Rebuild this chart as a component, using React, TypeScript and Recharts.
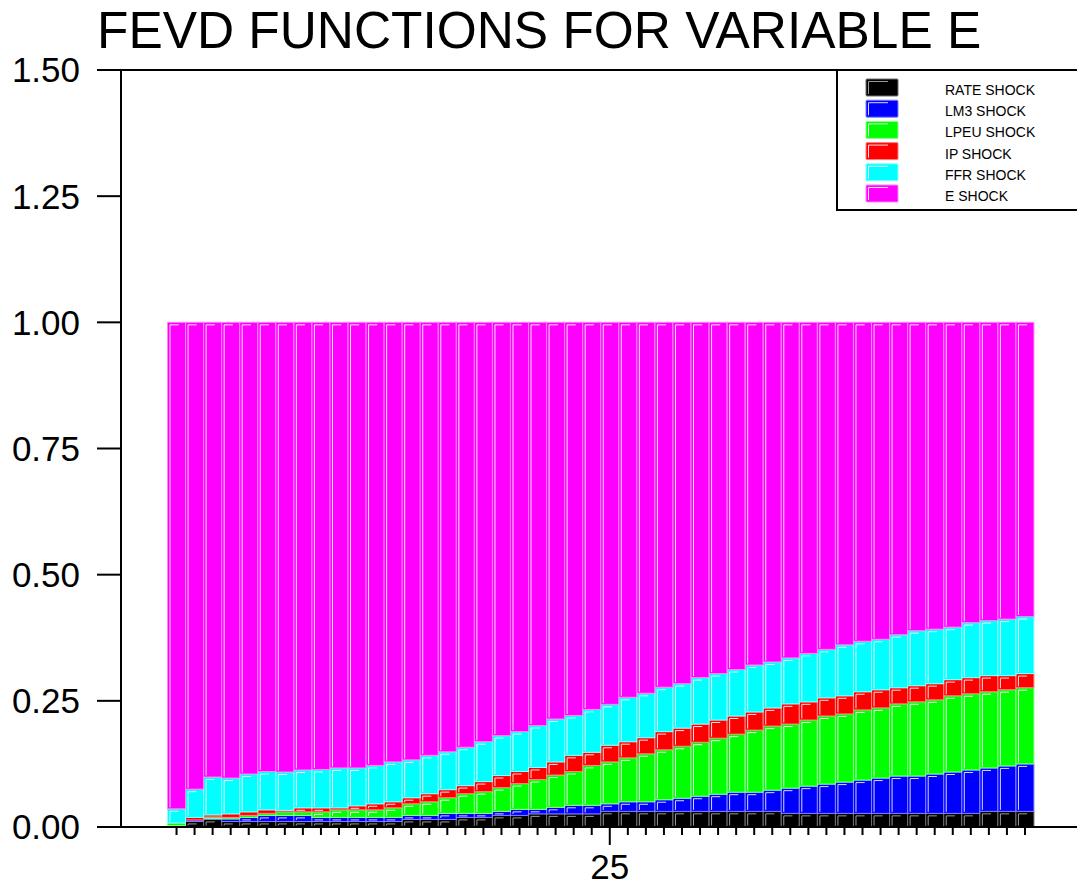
import React from 'react';
import { BarChart, Bar, XAxis, YAxis, ReferenceLine, Legend } from 'recharts';

// Forecast horizons (steps ahead)
const horizons = [
  1, 2, 3, 4, 5, 6, 7, 8, 9, 10, 11, 12, 13, 14, 15, 16, 17, 18, 19, 20, 21, 22, 23, 24,
  25, 26, 27, 28, 29, 30, 31, 32, 33, 34, 35, 36, 37, 38, 39, 40, 41, 42, 43, 44, 45, 46, 47, 48,
];

// Share of the forecast error variance of E explained by each shock
const rateShock = [
  0.003, 0.011, 0.015, 0.011, 0.011, 0.011, 0.011, 0.011, 0.011, 0.011, 0.011, 0.011, 0.011, 0.015, 0.015, 0.015,
  0.019, 0.019, 0.023, 0.023, 0.026, 0.026, 0.026, 0.026, 0.031, 0.031, 0.031, 0.031, 0.031, 0.031, 0.031, 0.031,
  0.031, 0.031, 0.027, 0.027, 0.027, 0.027, 0.027, 0.027, 0.027, 0.027, 0.027, 0.027, 0.027, 0.031, 0.031, 0.031,
];
const lm3Shock = [
  0.0, 0.003, 0.002, 0.005, 0.008, 0.012, 0.012, 0.012, 0.008, 0.008, 0.008, 0.008, 0.008, 0.008, 0.008, 0.012,
  0.008, 0.008, 0.008, 0.012, 0.009, 0.013, 0.017, 0.017, 0.015, 0.019, 0.019, 0.023, 0.026, 0.03, 0.034, 0.038,
  0.038, 0.042, 0.05, 0.054, 0.058, 0.062, 0.066, 0.07, 0.074, 0.074, 0.078, 0.082, 0.086, 0.086, 0.09, 0.094,
];
const lpeuShock = [
  0.005, 0.0, 0.003, 0.003, 0.004, 0.004, 0.007, 0.007, 0.011, 0.015, 0.015, 0.015, 0.019, 0.023, 0.027, 0.031,
  0.039, 0.043, 0.047, 0.051, 0.059, 0.064, 0.067, 0.079, 0.083, 0.087, 0.095, 0.099, 0.103, 0.107, 0.111, 0.115,
  0.123, 0.127, 0.127, 0.131, 0.135, 0.135, 0.139, 0.139, 0.143, 0.147, 0.147, 0.151, 0.151, 0.151, 0.151, 0.151,
];
const ipShock = [
  0.0, 0.005, 0.004, 0.007, 0.007, 0.007, 0.003, 0.008, 0.008, 0.004, 0.008, 0.012, 0.012, 0.012, 0.016, 0.016,
  0.016, 0.02, 0.024, 0.024, 0.024, 0.026, 0.032, 0.026, 0.033, 0.032, 0.032, 0.036, 0.036, 0.036, 0.036, 0.036,
  0.036, 0.036, 0.04, 0.036, 0.036, 0.036, 0.036, 0.036, 0.032, 0.032, 0.032, 0.032, 0.032, 0.032, 0.028, 0.028,
];
const ffrShock = [
  0.028, 0.056, 0.075, 0.071, 0.075, 0.076, 0.076, 0.075, 0.076, 0.079, 0.075, 0.076, 0.079, 0.075, 0.076, 0.075,
  0.076, 0.079, 0.079, 0.079, 0.083, 0.085, 0.079, 0.085, 0.081, 0.088, 0.088, 0.088, 0.088, 0.092, 0.092, 0.092,
  0.093, 0.091, 0.091, 0.096, 0.096, 0.101, 0.1, 0.1, 0.105, 0.109, 0.108, 0.104, 0.109, 0.109, 0.112, 0.113,
];
const eShock = [
  0.964, 0.925, 0.901, 0.903, 0.895, 0.89, 0.891, 0.887, 0.886, 0.883, 0.883, 0.878, 0.871, 0.867, 0.858, 0.851,
  0.842, 0.831, 0.819, 0.811, 0.799, 0.786, 0.779, 0.767, 0.757, 0.743, 0.735, 0.723, 0.716, 0.704, 0.696, 0.688,
  0.679, 0.673, 0.665, 0.656, 0.648, 0.639, 0.632, 0.628, 0.619, 0.611, 0.608, 0.604, 0.595, 0.591, 0.588, 0.583,
];

const seriesKeys = ['rate', 'lm3', 'lpeu', 'ip', 'ffr', 'e'];
const seriesNames = ['RATE SHOCK', 'LM3 SHOCK', 'LPEU SHOCK', 'IP SHOCK', 'FFR SHOCK', 'E SHOCK'];
const seriesColors = ['#000000', '#0000ff', '#00ff00', '#ff0000', '#00ffff', '#ff00ff'];
const edgeColors = ['#6e6e6e', '#7f7fff', '#8cff8c', '#ff8080', '#8cffff', '#ff80ff'];
const glintColors = ['#9a9a9a', '#d8d8ff', '#e8ffe8', '#ffe0e0', '#e8ffff', '#ffe8ff'];

const yTicks = [0, 0.25, 0.5, 0.75, 1.0, 1.25, 1.5];
const labelledHorizon = 25;

const chartTitle = 'FEVD FUNCTIONS FOR VARIABLE E';
const FONT = '"Liberation Sans", Arial, Helvetica, sans-serif';

const data = horizons.map((h, i) => ({
  h,
  rate: rateShock[i],
  lm3: lm3Shock[i],
  lpeu: lpeuShock[i],
  ip: ipShock[i],
  ffr: ffrShock[i],
  e: eShock[i],
}));

// Bevelled block: flat fill, lighter edge and a light inner corner stroke
const makeBlock = (idx: number) => (props: any) => {
  const { x, y, width, height } = props;
  if (!height || height <= 0 || !width) return <g />;
  const showGlint = height > 4;
  return (
    <g>
      <rect x={x} y={y} width={width} height={height} fill={seriesColors[idx]} stroke={edgeColors[idx]} strokeWidth={1} />
      {showGlint && (
        <path
          d={`M${x + 2.5},${y + height - 1.5}V${y + 2.5}H${x + width * 0.62}`}
          fill="none"
          stroke={glintColors[idx]}
          strokeWidth={1}
        />
      )}
    </g>
  );
};

const HorizonTick = (props: any) => {
  const { x, y, payload } = props;
  const major = payload.value === labelledHorizon;
  return (
    <g>
      <line x1={x} x2={x} y1={y} y2={y + (major ? 18 : 8)} stroke="#000" strokeWidth={2} />
      {major && (
        <text x={x} y={y + 52} textAnchor="middle" fontSize={35} fontFamily={FONT} fill="#000">
          {payload.value}
        </text>
      )}
    </g>
  );
};

const LegendBox = () => (
  <svg width={242} height={142} style={{ display: 'block' }}>
    <line x1={1} y1={0} x2={1} y2={141} stroke="#000" strokeWidth={2} />
    <line x1={0} y1={140} x2={242} y2={140} stroke="#000" strokeWidth={2} />
    {seriesNames.map((name, i) => {
      const top = 9 + i * 21.2;
      return (
        <g key={name}>
          <rect x={30} y={top} width={32} height={17} fill={seriesColors[i]} stroke={edgeColors[i]} strokeWidth={1} rx={1} />
          <path d={`M32.5,${top + 15}V${top + 2.5}H52`} fill="none" stroke={glintColors[i]} strokeWidth={1} />
          <text x={109} y={top + 16} fontSize={14} fontFamily={FONT} fill="#000">
            {name}
          </text>
        </g>
      );
    })}
  </svg>
);

export default function App() {
  return (
    <div style={{ position: 'absolute', left: 0, top: 0, width: 1077, height: 886, background: '#fff' }}>
      <svg width={1077} height={60} style={{ position: 'absolute', left: 0, top: 0 }}>
        <text x={97} y={48} fontSize={51.4} fontFamily={FONT} fill="#000">
          {chartTitle}
        </text>
      </svg>
      <BarChart
        width={1077}
        height={886}
        data={data}
        margin={{ top: 70, right: 0, bottom: 0, left: 0 }}
        barCategoryGap={0}
        barGap={0}
        style={{ fontFamily: FONT }}
      >
        <XAxis
          dataKey="h"
          height={59}
          padding={{ left: 46.5, right: 43 }}
          interval={0}
          tickSize={0}
          tickMargin={0}
          tickLine={false}
          axisLine={{ stroke: '#000', strokeWidth: 2 }}
          tick={<HorizonTick />}
        />
        <YAxis
          width={121}
          domain={[0, 1.5]}
          ticks={yTicks}
          interval={0}
          tickSize={24}
          tickMargin={17}
          tickFormatter={(v: number) => v.toFixed(2)}
          tick={{ fontSize: 35, fill: '#000', fontFamily: FONT }}
          tickLine={{ stroke: '#000', strokeWidth: 2 }}
          axisLine={{ stroke: '#000', strokeWidth: 2 }}
        />
        <ReferenceLine y={1.5} stroke="#000" strokeWidth={2} />
        <Legend
          layout="vertical"
          align="center"
          verticalAlign="middle"
          content={<LegendBox />}
          wrapperStyle={{ left: 836, top: 70, width: 242, height: 142 }}
        />
        {seriesKeys.map((key, i) => (
          <Bar
            key={key}
            dataKey={key}
            name={seriesNames[i]}
            stackId="fevd"
            fill={seriesColors[i]}
            shape={makeBlock(i)}
            isAnimationActive={false}
          />
        ))}
      </BarChart>
    </div>
  );
}
